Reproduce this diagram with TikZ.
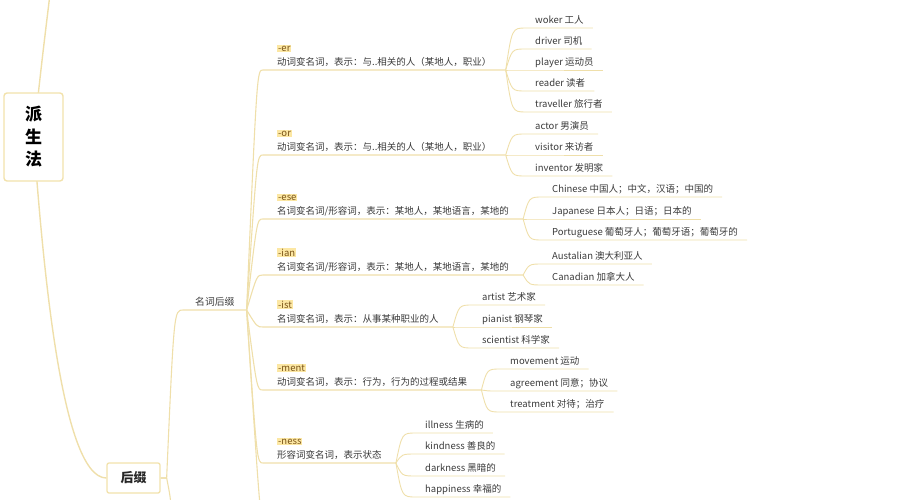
\documentclass[tikz,border=0pt]{standalone}
\usepackage{fontspec}
\setmainfont{Noto Sans CJK SC}
\usetikzlibrary{backgrounds}
\definecolor{lnc}{HTML}{EFDFAA}
\definecolor{boxc}{HTML}{F2E2AC}
\definecolor{hlc}{HTML}{FCE7A3}
\definecolor{hltxt}{HTML}{7A5418}
\definecolor{txt}{HTML}{3A3A3A}
\newcommand\sufhl[1]{{\setlength\fboxsep{1pt}\colorbox{hlc}{\textcolor{hltxt}{#1}}}}
\begin{document}
\begin{tikzpicture}[x=1pt,y=-1pt,
  rootbox/.style={draw=boxc, line width=1.4pt, rounded corners=3pt, fill=white,
    minimum width=59pt, minimum height=88pt, align=center, inner sep=0pt,
    font=\bfseries\fontsize{17}{22.5}\selectfont, text=black},
  midbox/.style={draw=boxc, line width=1.3pt, rounded corners=2pt, fill=white,
    minimum width=53pt, minimum height=30pt, inner sep=0pt,
    font=\bfseries\fontsize{13}{15}\selectfont, text=black!85},
  nsuf/.style={anchor=south west, inner xsep=12pt, inner ysep=2.2pt, text depth=2.3pt,
    font=\fontsize{9.8}{12}\selectfont, text=txt},
  suf/.style={anchor=south west, align=left, inner xsep=14pt, inner ysep=2.2pt,
    text depth=2.3pt, font=\fontsize{9.5}{14}\selectfont, text=txt},
  leaf/.style={anchor=south west, inner xsep=9pt, inner ysep=2.2pt, text depth=2.3pt,
    text height=7pt, font=\fontsize{9.5}{12}\selectfont, text=txt},
  mainln/.style={draw=lnc, line width=1.4pt},
  br/.style={draw=lnc, line width=1.1pt},
  lf/.style={draw=lnc, line width=0.9pt}
]
\useasboundingbox (0,0) rectangle (918,500);

% main nodes
\node[rootbox] (pai) at (33.5,137) {派\\生\\法};
\node[midbox] (hz) at (133.5,478) {后缀};
\node[nsuf] (ns) at (183,310) {名词后缀};
\coordinate (top) at (50,-6);
\coordinate (hzdown) at (172,530);
\coordinate (nsdown) at (263,530);

% suffix nodes
\node[suf] (er) at (263,70) {\sufhl{-er}\\动词变名词，表示：与..相关的人（某地人，职业）};
\node[suf] (or) at (263,155) {\sufhl{-or}\\动词变名词，表示：与..相关的人（某地人，职业）};
\node[suf] (ese) at (263,219) {\sufhl{-ese}\\名词变名词/形容词，表示：某地人，某地语言，某地的};
\node[suf] (ian) at (263,275) {\sufhl{-ian}\\名词变名词/形容词，表示：某地人，某地语言，某地的};
\node[suf] (ist) at (263,327) {\sufhl{-ist}\\名词变名词，表示：从事某种职业的人};
\node[suf] (ment) at (263,390) {\sufhl{-ment}\\动词变名词，表示：行为，行为的过程或结果};
\node[suf] (ness) at (263,463) {\sufhl{-ness}\\形容词变名词，表示状态};

% leaves
\node[leaf] (er1) at (526,28) {woker 工人};
\node[leaf] (er2) at (526,49) {driver 司机};
\node[leaf] (er3) at (526,70) {player 运动员};
\node[leaf] (er4) at (526,91) {reader 读者};
\node[leaf] (er5) at (526,112) {traveller 旅行者};

\node[leaf] (or1) at (526,134) {actor 男演员};
\node[leaf] (or2) at (526,155) {visitor 来访者};
\node[leaf] (or3) at (526,176) {inventor 发明家};

\node[leaf] (ese1) at (543,197) {Chinese 中国人；中文，汉语；中国的};
\node[leaf] (ese2) at (543,219) {Japanese 日本人；日语；日本的};
\node[leaf] (ese3) at (543,240) {Portuguese 葡萄牙人；葡萄牙语；葡萄牙的};

\node[leaf] (ian1) at (543,264) {Austalian 澳大利亚人};
\node[leaf] (ian2) at (543,285) {Canadian 加拿大人};

\node[leaf] (ist1) at (473,305) {artist 艺术家};
\node[leaf] (ist2) at (473,327) {pianist 钢琴家};
\node[leaf] (ist3) at (473,348) {scientist 科学家};

\node[leaf] (ment1) at (501,369) {movement 运动};
\node[leaf] (ment2) at (501,391) {agreement 同意；协议};
\node[leaf] (ment3) at (501,412) {treatment 对待；治疗};

\node[leaf] (ness1) at (416,433) {illness 生病的};
\node[leaf] (ness2) at (416,454) {kindness 善良的};
\node[leaf] (ness3) at (416,476) {darkness 黑暗的};
\node[leaf] (ness4) at (416,497) {happiness 幸福的};

\begin{scope}[on background layer]
  \draw[mainln] (pai.center) .. controls (42,60) .. (top);
  \draw[mainln] (pai.center) .. controls (42,250) and (60,478) .. (hz.west);
  \draw[br] (hz.east) -- ++(6,0) .. controls (174,310) .. (ns.south west) -- (ns.south east);
  \draw[br] (hz.east) -- ++(6,0) .. controls (171,500) .. (hzdown);
  \foreach \s in {er,or,ese,ian,ist,ment,ness}{
    \draw[br] (ns.south east) .. controls ([xshift=-6pt]\s.south west) .. (\s.south west) -- (\s.south east);
  }
  \draw[br] (ns.south east) .. controls (259,500) .. (nsdown);
  \foreach \s/\n in {er/5,or/3,ese/3,ian/2,ist/3,ment/3,ness/4}{
    \foreach \i in {1,...,\n}{
      \draw[lf] (\s.south east) .. controls ([xshift=-14pt]\s\i.south west) .. (\s\i.south west) -- (\s\i.south east);
    }
  }
\end{scope}
\end{tikzpicture}
\end{document}
